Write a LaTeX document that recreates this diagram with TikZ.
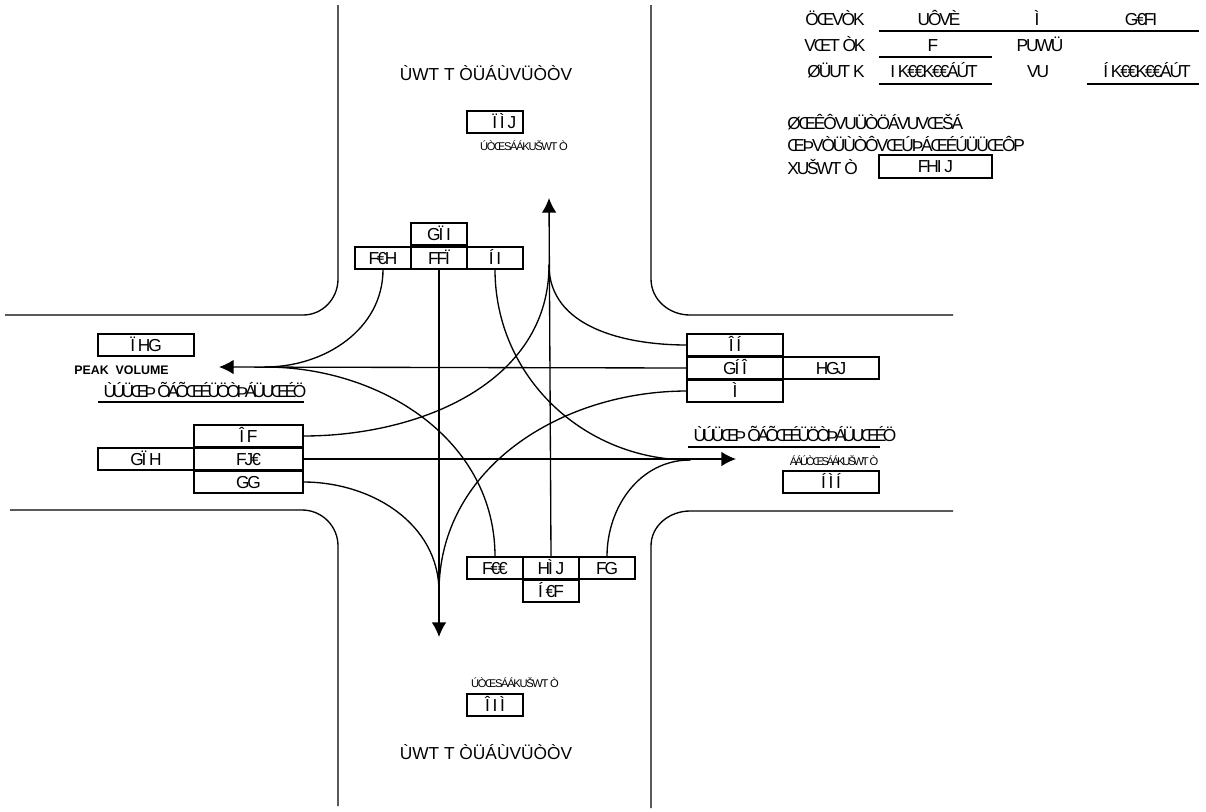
\documentclass[tikz,border=0pt]{standalone}
\usepackage{fontspec}
\setmainfont{Liberation Sans}
\newfontfamily\tightfont[LetterSpace=-12]{Liberation Sans}
\newfontfamily\tighterfont[LetterSpace=-20]{Liberation Sans}
\usetikzlibrary{arrows.meta}

\begin{document}
\begin{tikzpicture}[x=0.75pt,y=-0.75pt,
	cellbox/.style={draw,line width=1.5pt,inner sep=0pt,outer sep=0pt,minimum height=17.2pt,text height=9.4pt,text depth=0pt,font=\fontsize{13}{15}\tightfont},
	narrowcell/.style={cellbox,minimum width=42pt},
	widecell/.style={cellbox,minimum width=72pt},
	bigtext/.style={inner sep=0pt,text height=9.4pt,text depth=0pt,font=\fontsize{13}{15}\tightfont},
	longtext/.style={bigtext,font=\fontsize{13}{15}\tighterfont},
	streettext/.style={bigtext,font=\fontsize{13}{15}\selectfont},
	smalltext/.style={inner sep=0pt,text height=6pt,text depth=0pt,font=\fontsize{8.4}{10}\tightfont},
	flow/.style={line width=1pt,line cap=round},
	flowtip/.style={flow,-{Latex[length=11pt,width=11pt]}},
	road/.style={line width=1pt},
	rule/.style={line width=1.5pt}]
			\useasboundingbox (0,0) rectangle (1206,811);

			\draw[road] (338,5)--(338,279) to [out=-90, in=0] (303,315)--(5,315);
			\draw[road] (651,5)--(651,279) to [out=-90, in=180] (690,315)--(953,315);
			\draw[road] (10,510)--(302,510) to [out=0, in=90] (338,546)--(338,806);
			\draw[road] (953,511)--(690,511) to [out=180, in=90] (651,546)--(651,808);

			\node[streettext] (streetn) at (486,74) {ÙWT T ÒÜÁÙVÜÒÒV};
			\node[streettext] (streets) at (486,753) {ÙWT T ÒÜÁÙVÜÒÒV};
			\node[longtext] (labelw) at (205,391) {ÙÚÜŒÞ ÕÁÕŒÉÜÖÒÞÁÜUŒÉÖ};
			\node[longtext] (labele) at (795,435) {ÙÚÜŒÞ ÕÁÕŒÉÜÖÒÞÁÜUŒÉÖ};

			\node[narrowcell] (peakn) at (495,122) {\hspace*{14pt}Ï Ì J};
			\node[smalltext] (peaknlbl) at (524,146) {ÚÒŒSÁÁKUŠWT Ò};
			\node[narrowcell] (peaks) at (495,705) {Î I Ì};
			\node[smalltext] (peakslbl) at (515,683) {ÚÒŒSÁÁKUŠWT Ò};
			\node[widecell] (peakw) at (146,345) {Ï HG};
			\node[inner sep=0pt,font=\fontsize{9.3}{11}\bfseries\selectfont] (peakwlbl) at (121.5,370) {PEAK\ \ VOLUME};
			\node[widecell] (peake) at (831,482) {Í Ì Í};
			\node[smalltext,font=\fontsize{8.4}{10}\tighterfont] (peakelbl) at (834,461) {ÁÁÚÒŒSÁÁKUŠWT Ò};

			\node[narrowcell] (ntop) at (439,234) {GÏ I};
			\node[narrowcell] (nleft) at (383,258) {F€H};
			\node[narrowcell] (nmid) at (439,258) {FFÏ};
			\node[narrowcell] (nright) at (495,258) {Í I};

			\node[narrowcell] (sleft) at (495,568) {F€€};
			\node[narrowcell] (smid) at (551,568) {HÌ J};
			\node[narrowcell] (sright) at (607,568) {FG};
			\node[narrowcell] (sbot) at (551,591) {Í €F};

			\node[cellbox,minimum width=82pt] (wtop) at (248.5,436) {Î F};
			\node[cellbox,minimum width=82pt] (wmid) at (248.5,459) {FJ€};
			\node[cellbox,minimum width=82pt] (wbot) at (248.5,482) {GG};
			\node[widecell] (wtotal) at (146,459) {GÏ H};

			\node[widecell] (etop) at (735,345) {Î Í};
			\node[widecell] (emid) at (735,368) {GÍ Î};
			\node[widecell] (ebot) at (735,391) {Ì};
			\node[widecell] (etotal) at (831,368) {HGJ};

			\node[bigtext] (hdate) at (835,19) {ÖŒVÒK};
			\node[bigtext] (hday) at (939,19) {UÔVÈ};
			\node[bigtext] (hmonth) at (1037,19) {Ì};
			\node[bigtext] (hyear) at (1141,19) {G€FI};
			\node[bigtext] (htime) at (835,45) {VŒT ÒK};
			\node[bigtext] (hnum) at (933,45) {F};
			\node[bigtext] (hhour) at (1040,45) {PUWÜ};
			\node[bigtext] (hfrom) at (836,71) {ØÜUT K};
			\node[bigtext] (hstart) at (934,71) {I K€€K€€ÁÚT};
			\node[bigtext] (hto) at (1038,71) {VU};
			\node[bigtext] (hend) at (1147,71) {Í K€€K€€ÁÚT};
			\node[bigtext,anchor=west] (tline) at (787,123) {ØŒÊÔVUÜÒÖÁVUVŒŠÁ};
			\node[bigtext,anchor=west] (tlinetwo) at (787,145) {ŒÞVÒÜÙÒÔVŒÚÞÁŒÉÚÜÜŒÔP};
			\node[bigtext,anchor=west] (tlinethree) at (787,168) {XUŠWT Ò};
			\node[cellbox,minimum width=84.75pt] (totalbox) at (935.5,166.5) {FHI J};

			\coordinate (rulea) at (879,31);
			\coordinate (ruleb) at (1199,31);
			\coordinate (rulec) at (879,57);
			\coordinate (ruled) at (992,57);
			\coordinate (rulee) at (879,84);
			\coordinate (rulef) at (992,84);
			\coordinate (ruleg) at (1087,84);
			\coordinate (ruleh) at (1199,84);
			\coordinate (rulei) at (98,402);
			\coordinate (rulej) at (304,402);
			\coordinate (rulek) at (688,447);
			\coordinate (rulel) at (880,447);
			\begin{scope}[rule]
			\draw (rulea)--(ruleb);
			\draw (rulec)--(ruled);
			\draw (rulee)--(rulef);
			\draw (ruleg)--(ruleh);
			\draw (rulei)--(rulej);
			\draw (rulek)--(rulel);
			\end{scope}

			\coordinate (tipn) at (549,198);
			\coordinate (tipw) at (219,367);
			\coordinate (tipe) at (736,459);
			\coordinate (tips) at (439,637);
			\coordinate (joinn) at (549,265);
			\coordinate (joinw) at (265,367);
			\coordinate (joine) at (690,460);
			\coordinate (joins) at (439,592);

			\draw[flowtip] (smid.north)--(tipn);
			\draw[flowtip] (emid.west)--(tipw);
			\draw[flowtip] (wmid.east)--(tipe);
			\draw[flowtip] (nmid.south)--(tips);

			\begin{scope}[flow]
			\draw (nleft.south) to [out=-90, in=0] (joinw);
			\draw (nright.south) to [out=-90, in=180] (joine);
			\draw (etop.west) to [out=180, in=-90] (joinn);
			\draw (ebot.west) to [out=180, in=90] (joins);
			\draw (wtop.east) to [out=0, in=-90] (joinn);
			\draw (wbot.east) to [out=0, in=90] (joins);
			\draw (sleft.north) to [out=90, in=0] (joinw);
			\draw (sright.north) to [out=90, in=180] (joine);
			\end{scope}
\end{tikzpicture}
\end{document}
